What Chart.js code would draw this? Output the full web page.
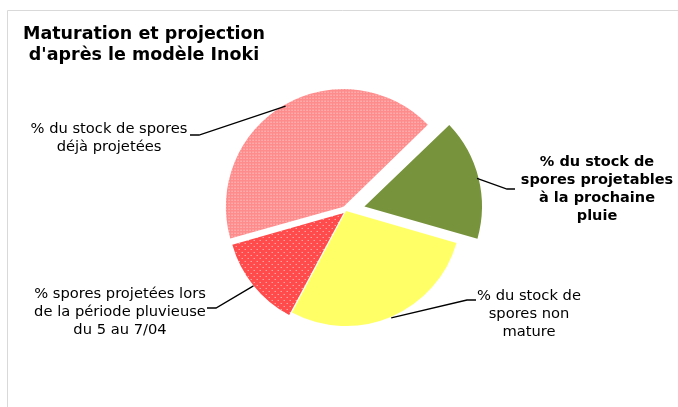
<!DOCTYPE html>
<html>
<head>
<meta charset="utf-8">
<script src="https://cdn.jsdelivr.net/npm/chart.js@4.4.0/dist/chart.umd.min.js"></script>
<style>
    html, body { margin: 0; padding: 0; background: #fff; }
    #wrap { position: relative; width: 678px; height: 407px; }
</style>
</head>
<body>
<div id="wrap"><canvas id="inokiChart" width="678" height="407"></canvas></div>
<script>
// data (shares in %)
const categories = [
    '% du stock de spores projetables à la prochaine pluie',
    '% du stock de spores non mature',
    '% spores projetées lors de la période pluvieuse du 5 au 7/04',
    '% du stock de spores déjà projetées'
];
const shares = [16.7, 28.3, 12.8, 42.2];
const labelLines = [
    ['% du stock de', 'spores projetables', 'à la prochaine', 'pluie'],
    ['% du stock de', 'spores non', 'mature'],
    ['% spores projetées lors', 'de la période pluvieuse', 'du 5 au 7/04'],
    ['% du stock de spores', 'déjà projetées']
];
const titleLines = ['Maturation et projection', "d'après le modèle Inoki"];

// where each callout text sits (elbow of leader line, end of leader, text centre)
const labelLayout = [
    { elbow: [507, 189], end: [515, 189], textX: 597, textY: 162, bold: true },
    { elbow: [467, 300], end: [476, 300], textX: 529, textY: 296, bold: false },
    { elbow: [216, 308], end: [207, 308], textX: 120, textY: 294, bold: false },
    { elbow: [199, 135], end: [190, 135], textX: 109, textY: 129, bold: false }
];

function makePattern(size, base, dots, dotColor, dotSize) {
    const c = document.createElement('canvas');
    c.width = size;
    c.height = size;
    const g = c.getContext('2d');
    g.fillStyle = base;
    g.fillRect(0, 0, size, size);
    g.fillStyle = dotColor;
    dots.forEach(d => g.fillRect(d[0], d[1], dotSize, dotSize));
    return document.getElementById('inokiChart').getContext('2d').createPattern(c, 'repeat');
}

const pinkPattern = makePattern(3, '#ff8c8c', [[0, 0]], '#ffe0e0', 1);
const redPattern = makePattern(6, '#ff4b4b', [[1, 1], [4, 4]], '#ffd6d6', 1);

const calloutPlugin = {
    id: 'callouts',
    beforeDraw(chart) {
        const ctx = chart.ctx;
        ctx.save();
        ctx.strokeStyle = '#d9d9d9';
        ctx.lineWidth = 1;
        ctx.beginPath();
        ctx.moveTo(7.5, 407);
        ctx.lineTo(7.5, 10.5);
        ctx.lineTo(678, 10.5);
        ctx.stroke();
        ctx.restore();
    },
    afterDatasetsDraw(chart) {
        const ctx = chart.ctx;
        const arcs = chart.getDatasetMeta(0).data;
        ctx.save();
        // title
        ctx.fillStyle = '#000';
        ctx.font = 'bold 17.5px "DejaVu Sans"';
        ctx.textAlign = 'center';
        ctx.textBaseline = 'alphabetic';
        ctx.fillText(titleLines[0], 144, 39);
        ctx.fillText(titleLines[1], 144, 60);

        arcs.forEach((arc, i) => {
            const p = arc.getProps(['x', 'y', 'startAngle', 'endAngle', 'outerRadius'], true);
            const mid = (p.startAngle + p.endAngle) / 2;
            const shift = (arc.options.offset || 0) / 4;
            const r = p.outerRadius + 1;
            const sx = p.x + Math.cos(mid) * (shift + r);
            const sy = p.y + Math.sin(mid) * (shift + r);
            const lay = labelLayout[i];
            ctx.strokeStyle = '#000';
            ctx.lineWidth = 1.3;
            ctx.beginPath();
            ctx.moveTo(sx, sy);
            ctx.lineTo(lay.elbow[0], lay.elbow[1]);
            ctx.lineTo(lay.end[0], lay.end[1]);
            ctx.stroke();

            ctx.font = (lay.bold ? 'bold 14.5px' : '14.7px') + ' "DejaVu Sans"';
            ctx.textAlign = 'center';
            ctx.textBaseline = 'middle';
            labelLines[i].forEach((line, k) => {
                ctx.fillText(line, lay.textX, lay.textY + k * 18);
            });
        });
        ctx.restore();
    }
};

new Chart(document.getElementById('inokiChart'), {
    type: 'pie',
    data: {
        labels: categories,
        datasets: [{
            data: shares,
            backgroundColor: ['#77933c', '#ffff66', redPattern, pinkPattern],
            borderWidth: 0,
            offset: [76, 0, 12, 20]
        }]
    },
    options: {
        responsive: false,
        animation: false,
        rotation: 46,
        radius: 115,
        layout: { padding: { left: 220.5, right: 206.5, top: 85.5, bottom: 70.5 } },
        plugins: {
            legend: { display: false },
            title: { display: false },
            tooltip: { enabled: false }
        }
    },
    plugins: [calloutPlugin]
});
</script>
</body>
</html>
